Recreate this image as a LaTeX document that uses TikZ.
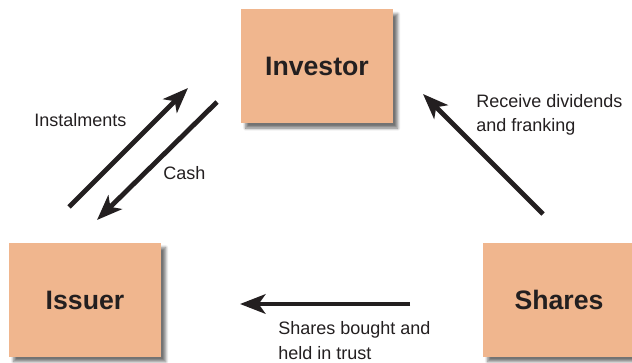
\documentclass[tikz,border=0pt]{standalone}
\usepackage{fontspec}
\setmainfont{Liberation Sans}
\usetikzlibrary{arrows.meta,shadows.blur}

\definecolor{boxfill}{RGB}{240,182,142}
\definecolor{ink}{RGB}{35,31,32}

\tikzset{
  party/.style={fill=boxfill, minimum width=114pt, minimum height=85.5pt, inner sep=0pt,
    font=\fontsize{20}{24}\selectfont\bfseries, text=ink,
    blur shadow={shadow xshift=3.5pt, shadow yshift=-3.5pt, shadow blur steps=8, shadow opacity=55}},
  flow/.style={draw=ink, line width=3.6pt, -{Stealth[length=19pt, width=14.5pt, inset=5pt]}},
  flowlabel/.style={font=\fontsize{13.5}{18.5}\selectfont, text=ink, align=left, inner sep=0pt}
}

\begin{document}
\begin{tikzpicture}[x=0.75pt, y=-0.75pt]
  \useasboundingbox (0,0) rectangle (632,363);

  % the three parties
  \node[party] (investor) at (317,66.5) {Investor};
  \node[party] (issuer) at (85,300) {Issuer};
  \node[party] (shares) at (559,300) {Shares};

  % arrow ends
  \coordinate (instfrom) at (69,207);
  \coordinate (instto) at (188,88);
  \coordinate (cashfrom) at (217,102);
  \coordinate (cashto) at (97,220);
  \coordinate (divfrom) at (543,214);
  \coordinate (divto) at (423,94);
  \coordinate (trustfrom) at (410,304);
  \coordinate (trustto) at (240,304);

  \draw[flow] (instfrom) -- (instto);
  \draw[flow] (cashfrom) -- (cashto);
  \draw[flow] (divfrom) -- (divto);
  \draw[flow] (trustfrom) -- (trustto);

  % labels (base = last line)
  \node[flowlabel, anchor=base west] (instlabel) at (34,127) {Instalments};
  \node[flowlabel, anchor=base west] (cashlabel) at (163,180) {Cash};
  \node[flowlabel, anchor=base west] (divlabel) at (476,132) {Receive dividends\\and franking};
  \node[flowlabel, anchor=base west] (trustlabel) at (278,359) {Shares bought and\\held in trust};
\end{tikzpicture}
\end{document}
